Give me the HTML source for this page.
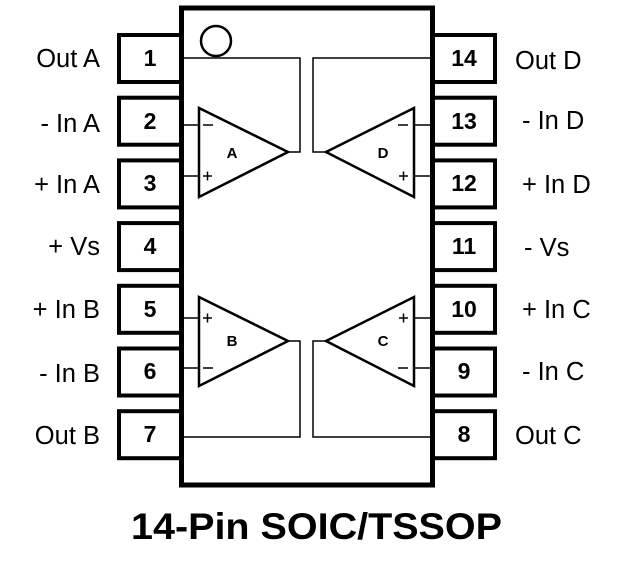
<!DOCTYPE html>
<html><head><meta charset="utf-8"><style>
html,body{margin:0;padding:0;background:#fff;width:625px;height:571px;overflow:hidden}
svg{display:block}
text{font-family:"Liberation Sans",Arial,sans-serif;fill:#000}
.n{font-weight:bold;font-size:23px;text-anchor:middle}
.l{font-size:25.5px}
</style></head><body>
<svg width="625" height="571" viewBox="0 0 625 571" xmlns="http://www.w3.org/2000/svg">
<g fill="none" stroke="#000" stroke-width="4">
<rect x="119" y="35" width="62" height="47"/>
<rect x="119" y="97.7" width="62" height="47"/>
<rect x="119" y="160.4" width="62" height="47"/>
<rect x="119" y="223.1" width="62" height="47"/>
<rect x="119" y="285.8" width="62" height="47"/>
<rect x="119" y="348.5" width="62" height="47"/>
<rect x="119" y="411.2" width="62" height="47"/>
<rect x="433" y="35" width="62" height="47"/>
<rect x="433" y="97.7" width="62" height="47"/>
<rect x="433" y="160.4" width="62" height="47"/>
<rect x="433" y="223.1" width="62" height="47"/>
<rect x="433" y="285.8" width="62" height="47"/>
<rect x="433" y="348.5" width="62" height="47"/>
<rect x="433" y="411.2" width="62" height="47"/>
</g>
<rect x="181.5" y="8" width="251" height="477" fill="#fff" stroke="#000" stroke-width="5"/>
<circle cx="216" cy="41" r="15" fill="none" stroke="#000" stroke-width="2.5"/>
<g fill="none" stroke="#000" stroke-width="1.5">
<polyline points="184,58 300,58 300,152 288,152"/>
<polyline points="184,125 199,125"/>
<polyline points="184,176 199,176"/>
<polyline points="430,58 313,58 313,152 326,152"/>
<polyline points="430,125 414,125"/>
<polyline points="430,176 414,176"/>
<polyline points="184,437 300,437 300,341 288,341"/>
<polyline points="184,318 199,318"/>
<polyline points="184,368 199,368"/>
<polyline points="430,437 313,437 313,341 326,341"/>
<polyline points="430,318 414,318"/>
<polyline points="430,368 414,368"/>
<path d="M203,125h10M203,176h9M207.5,171.5v9"/>
<path d="M398,125h10M399,176h9M403.5,171.5v9"/>
<path d="M203,318h9M207.5,313.5v9M203,368h10"/>
<path d="M399,318h9M403.5,313.5v9M398,368h10"/>
</g>
<g fill="none" stroke="#000" stroke-width="2.5">
<polygon points="199,108 199,197 288,152"/>
<polygon points="414,108 414,197 326,152"/>
<polygon points="199,297 199,386 288,341"/>
<polygon points="414,297 414,386 326,341"/>
</g>
<g style="font-weight:bold;font-size:15px" text-anchor="middle">
<text x="232" y="158">A</text><text x="383" y="158">D</text>
<text x="232" y="346">B</text><text x="383" y="346">C</text>
</g>
<g class="n">
<text x="150" y="66">1</text><text x="150" y="129">2</text><text x="150" y="191">3</text>
<text x="150" y="254">4</text><text x="150" y="317">5</text><text x="150" y="379">6</text>
<text x="150" y="442">7</text>
<text x="464" y="66">14</text><text x="464" y="129">13</text><text x="464" y="191">12</text>
<text x="464" y="254">11</text><text x="464" y="317">10</text><text x="464" y="379">9</text>
<text x="464" y="442">8</text>
</g>
<g class="l" text-anchor="end">
<text x="100" y="67">Out A</text><text x="100" y="132">- In A</text><text x="100" y="193">+ In A</text>
<text x="100" y="255">+ Vs</text><text x="100" y="318">+ In B</text><text x="100" y="382">- In B</text>
<text x="100" y="444">Out B</text>
</g>
<g class="l">
<text x="515" y="69">Out D</text><text x="522" y="129">- In D</text><text x="522" y="193">+ In D</text>
<text x="524" y="256">- Vs</text><text x="522" y="318">+ In C</text><text x="522" y="380">- In C</text>
<text x="515" y="444">Out C</text>
</g>
<text x="131" y="539" textLength="371" lengthAdjust="spacingAndGlyphs" style="font-weight:bold;font-size:37px">14-Pin SOIC/TSSOP</text>
</svg>
</body></html>
